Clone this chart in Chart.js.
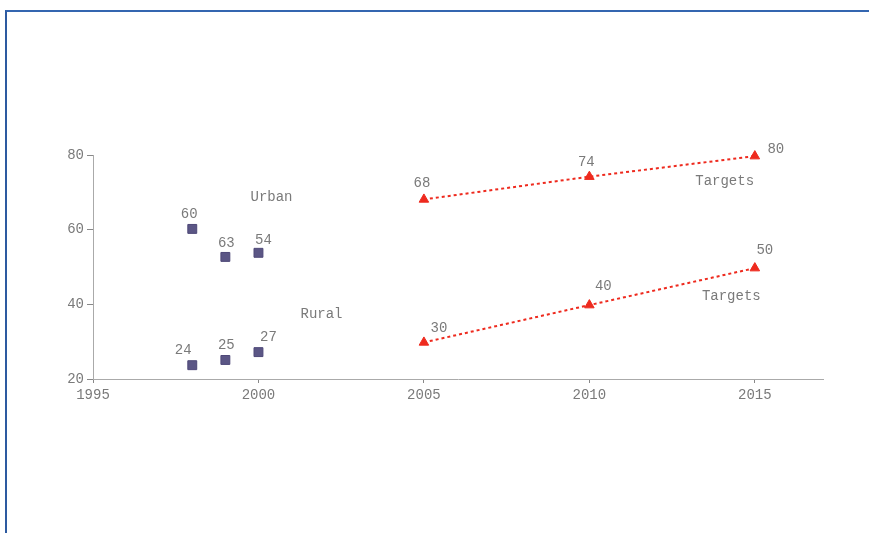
<!DOCTYPE html>
<html>
<head>
<meta charset="utf-8">
<script src="https://cdn.jsdelivr.net/npm/chart.js@4"></script>
<style>
html,body{margin:0;padding:0;background:#fff;}
#wrap{position:absolute;left:0;top:0;width:869px;height:533px;}
#frame{position:absolute;left:5px;top:10px;width:870px;height:530px;border-top:2px solid #3466b0;border-left:2px solid #2d5aa0;}
canvas{position:absolute;left:0;top:0;}
</style>
</head>
<body>
<div id="wrap"><div id="frame"></div><canvas id="c" width="869" height="533"></canvas></div>
<script>
const urbanYears = [1998, 1999, 2000];
const urbanValues = [60.2, 52.7, 53.8];
const urbanLabels = ["60", "63", "54"];
const ruralYears = [1998, 1999, 2000];
const ruralValues = [23.7, 25.1, 27.2];
const ruralLabels = ["24", "25", "27"];
const targetYears = [2005, 2010, 2015];
const urbanTargets = [68.1, 74.2, 79.7];
const urbanTargetLabels = ["68", "74", "80"];
const ruralTargets = [29.8, 39.8, 49.7];
const ruralTargetLabels = ["30", "40", "50"];
const xTicks = [1995, 2000, 2005, 2010, 2015];
const yTicks = [20, 40, 60, 80];
const annotations = [
  {text: "Urban", x: 1999.76, y: 68.8},
  {text: "Rural", x: 2001.27, y: 37.4},
  {text: "Targets", x: 2013.2, y: 73.0},
  {text: "Targets", x: 2013.4, y: 42.2}
];

const FONT = '14px "Liberation Mono", "DejaVu Sans Mono", monospace';
const TXT = '#7a7a7a';

const pts = (xs, ys) => xs.map((x, i) => ({x: x, y: ys[i]}));

const labelOffsets = [
  [[-3,-15],[1,-14],[5,-13]],
  [[-9,-15],[1,-15],[10,-15]],
  [[-2,-16],[-3,-14],[21,-7]],
  [[15,-14],[14,-19],[10,-18]]
];
const labelSets = [urbanLabels, ruralLabels, urbanTargetLabels, ruralTargetLabels];

const textPlugin = {
  id: 'textPlugin',
  afterDatasetsDraw(chart) {
    const ctx = chart.ctx;
    const xs = chart.scales.x, ys = chart.scales.y;
    ctx.save();
    ctx.font = FONT;
    ctx.fillStyle = TXT;
    ctx.textBaseline = 'middle';
    ctx.textAlign = 'center';
    chart.data.datasets.forEach((ds, di) => {
      const meta = chart.getDatasetMeta(di);
      meta.data.forEach((el, i) => {
        const o = labelOffsets[di][i];
        ctx.fillText(labelSets[di][i], el.x + o[0], el.y + o[1]);
      });
    });
    ctx.textAlign = 'left';
    annotations.forEach(a => {
      ctx.fillText(a.text, xs.getPixelForValue(a.x), ys.getPixelForValue(a.y));
    });
    ctx.restore();
  }
};

new Chart(document.getElementById('c'), {
  type: 'scatter',
  data: {
    datasets: [
      {label: 'Urban', data: pts(urbanYears, urbanValues), pointStyle: 'rect', pointRadius: 6.3, backgroundColor: '#5b5685', borderColor: '#4e4878', borderWidth: 1, showLine: false, clip: false},
      {label: 'Rural', data: pts(ruralYears, ruralValues), pointStyle: 'rect', pointRadius: 6.3, backgroundColor: '#5b5685', borderColor: '#4e4878', borderWidth: 1, showLine: false, clip: false},
      {label: 'Urban targets', data: pts(targetYears, urbanTargets), pointStyle: 'triangle', pointRadius: 5.5, pointBorderWidth: 1, backgroundColor: '#ee2a1e', borderColor: '#ee2a1e', showLine: true, borderDash: [3, 3], borderWidth: 2, clip: false},
      {label: 'Rural targets', data: pts(targetYears, ruralTargets), pointStyle: 'triangle', pointRadius: 5.5, pointBorderWidth: 1, backgroundColor: '#ee2a1e', borderColor: '#ee2a1e', showLine: true, borderDash: [3, 3], borderWidth: 2, clip: false}
    ]
  },
  options: {
    responsive: false,
    animation: false,
    devicePixelRatio: 1,
    layout: {padding: {left: 0, top: 155, right: 46, bottom: 124}},
    plugins: {legend: {display: false}, tooltip: {enabled: false}},
    scales: {
      x: {
        type: 'linear', min: 1995, max: 2017.06,
        afterBuildTicks: s => { s.ticks = xTicks.map(v => ({value: v})); },
        afterFit: s => { s.height = 30; },
        ticks: {font: {family: '"Liberation Mono", monospace', size: 14}, color: TXT, padding: 4, callback: v => String(v)},
        grid: {drawOnChartArea: false, tickLength: 4, color: '#888'},
        border: {color: '#aaa', dash: [1, 1], width: 1}
      },
      y: {
        min: 20, max: 80,
        afterBuildTicks: s => { s.ticks = yTicks.map(v => ({value: v})); },
        afterFit: s => { s.width = 93; },
        ticks: {font: {family: '"Liberation Mono", monospace', size: 14}, color: TXT, padding: 3},
        grid: {drawOnChartArea: false, tickLength: 6, color: '#888'},
        border: {color: '#aaa', dash: [1, 1], width: 1}
      }
    }
  },
  plugins: [textPlugin]
});
</script>
</body>
</html>
